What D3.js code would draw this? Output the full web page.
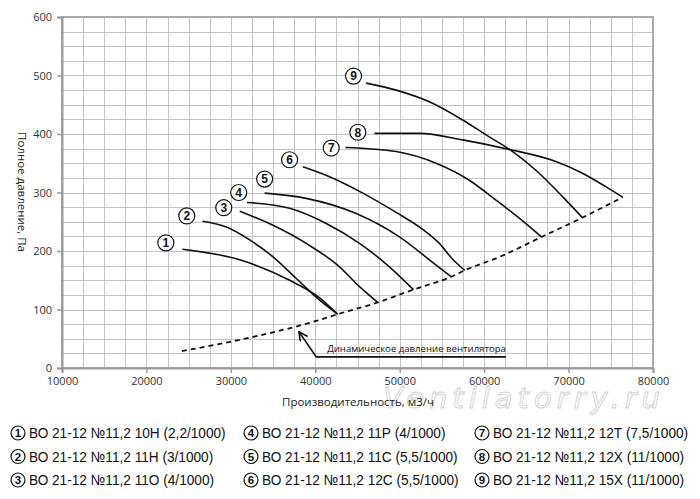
<!DOCTYPE html>
<html lang="ru">
<head>
<meta charset="UTF-8">
<title>ВО 21-12 №11,2 — аэродинамические характеристики</title>
<script src="https://d3js.org/d3.v7.min.js"></script>
<style>
  body { margin: 0; background: #fff; }
  svg { display: block; font-family: "Open Sans", "Noto Sans", sans-serif; }
  .tick-label { font-size: 11px; fill: #333; }
  .axis-title { font-size: 11.5px; fill: #222; }
  .legend text.name { font-family: "Liberation Sans", Arial, sans-serif; font-size: 15px; fill: #111; }
  .badge text { font-family: "Liberation Sans", Arial, sans-serif; font-weight: bold; fill: #111; }
</style>
</head>
<body>
<svg id="chart" width="700" height="499"></svg>
<script>
// --- data ---
const seriesNames = [
  "ВО 21-12 №11,2 10Н (2,2/1000)",
  "ВО 21-12 №11,2 11Н (3/1000)",
  "ВО 21-12 №11,2 11О (4/1000)",
  "ВО 21-12 №11,2 11Р (4/1000)",
  "ВО 21-12 №11,2 11С (5,5/1000)",
  "ВО 21-12 №11,2 12С (5,5/1000)",
  "ВО 21-12 №11,2 12Т (7,5/1000)",
  "ВО 21-12 №11,2 12Х (11/1000)",
  "ВО 21-12 №11,2 15Х (11/1000)"
];

// flow, m3/h
const curveFlow = [
  [24270, 31050, 36960, 40510, 42640],
  [26640, 29470, 32230, 34990, 37750, 40510, 42650],
  [31050, 34990, 38930, 42870, 45240, 47400],
  [31910, 36960, 41300, 45240, 48780, 51620],
  [34000, 38930, 44850, 49970, 53510, 56080],
  [38530, 41690, 45630, 49580, 52720, 54700, 56270, 57700],
  [43580, 49580, 54310, 58240, 61400, 64160, 66790],
  [47010, 52330, 57450, 63180, 68500, 71640, 74410, 76400],
  [46030, 49580, 53510, 57450, 60610, 63180, 66130, 69280, 71640]
];
// total pressure, Pa
const curvePressure = [
  [203, 185, 150, 120, 92],
  [251, 241, 219, 190, 153, 116, 92],
  [268, 244, 213, 173, 139, 112],
  [283, 273, 247, 213, 173, 134],
  [299, 290, 264, 224, 185, 156],
  [344, 327, 299, 266, 237, 213, 186, 167],
  [377, 370, 350, 321, 287, 256, 224],
  [401, 401, 390, 373, 353, 333, 310, 292],
  [487, 475, 455, 424, 395, 372, 338, 293, 257]
];

// dynamic pressure (dashed)
const dynFlow = [24200, 30000, 35000, 40000, 42650, 47400, 51620, 56080, 57700, 62000, 66790, 71640, 76400];
const dynPressure = [29, 45, 61, 80, 92, 112, 134, 156, 167, 191, 224, 257, 292];

// circled number labels on the chart
const labelFlow = [22300, 24780, 29160, 30930, 34000, 36960, 41890, 45040, 44530];
const labelPressure = [214, 260, 274, 300, 323, 356, 376, 403, 499];

// annotation leader: arrow tip, bend, end
const noteFlow = [38060, 40120, 62580];
const notePressure = [62, 19, 19];
const noteText = "Динамическое давление вентилятора";

const xTicks = [10000, 20000, 30000, 40000, 50000, 60000, 70000, 80000];
const yTicks = [0, 100, 200, 300, 400, 500, 600];

// --- layout ---
const svg = d3.select("#chart");
const plotLeft = 62, plotRight = 653, plotTop = 17, plotBottom = 368;

const x = d3.scaleLinear().domain([10000, 80000]).range([plotLeft, plotRight]);
const y = d3.scaleLinear().domain([0, 600]).range([plotBottom, plotTop]);

// grid
const grid = svg.append("g").attr("stroke", "#c3c3c3").attr("stroke-width", 1);
grid.selectAll("line.v")
  .data(d3.range(10000, 80001, 2500))
  .join("line")
  .attr("x1", d => Math.round(x(d)) + 0.5).attr("x2", d => Math.round(x(d)) + 0.5)
  .attr("y1", plotTop).attr("y2", plotBottom);
grid.selectAll("line.h")
  .data(d3.range(0, 601, 25))
  .join("line")
  .attr("y1", d => Math.round(y(d)) + 0.5).attr("y2", d => Math.round(y(d)) + 0.5)
  .attr("x1", plotLeft).attr("x2", plotRight);

// frame
svg.append("rect")
  .attr("x", plotLeft).attr("y", plotTop)
  .attr("width", plotRight - plotLeft).attr("height", plotBottom - plotTop)
  .attr("fill", "none").attr("stroke", "#aaa").attr("stroke-width", 2);

// axes
const yAxis = svg.append("g")
  .attr("transform", `translate(${plotLeft},0)`)
  .call(d3.axisLeft(y).tickValues(yTicks).tickSize(5).tickPadding(5));
const xAxis = svg.append("g")
  .attr("transform", `translate(0,${plotBottom})`)
  .call(d3.axisBottom(x).tickValues(xTicks).tickSize(5).tickPadding(4).tickFormat(d3.format("d")));
[xAxis, yAxis].forEach(a => {
  a.select(".domain").attr("stroke", "#999").attr("stroke-width", 2);
  a.selectAll(".tick line").attr("stroke", "#999").attr("stroke-width", 1.5);
  a.selectAll(".tick text").attr("class", "tick-label");
  a.attr("font-family", null).attr("font-size", null);
});

// watermark
svg.append("text")
  .attr("x", 524).attr("y", 408)
  .attr("text-anchor", "middle")
  .attr("font-family", "DejaVu Sans")
  .attr("font-style", "italic")
  .attr("font-size", 29)
  .attr("letter-spacing", 5)
  .attr("fill", "#fdfdfd")
  .attr("stroke", "#d2d2d2")
  .attr("stroke-width", 0.9)
  .text("Ventilatorry.ru");

// axis titles
svg.append("text").attr("class", "axis-title")
  .attr("x", 358).attr("y", 406).attr("text-anchor", "middle")
  .text("Производительность, м3/ч");
svg.append("text").attr("class", "axis-title")
  .attr("transform", "translate(18,192) rotate(90)")
  .attr("text-anchor", "middle")
  .text("Полное давление, Па");

// dynamic pressure line
const line = d3.line().x(d => x(d[0])).y(d => y(d[1])).curve(d3.curveMonotoneX);
svg.append("path")
  .datum(dynFlow.map((f, i) => [f, dynPressure[i]]))
  .attr("d", line)
  .attr("fill", "none")
  .attr("stroke", "#111")
  .attr("stroke-width", 1.8)
  .attr("stroke-dasharray", "5,4");

// fan curves
svg.append("g").selectAll("path")
  .data(curveFlow.map((fl, k) => fl.map((f, i) => [f, curvePressure[k][i]])))
  .join("path")
  .attr("d", line)
  .attr("fill", "none")
  .attr("stroke", "#111")
  .attr("stroke-width", 1.6);

// annotation
svg.append("defs").append("marker")
  .attr("id", "arrow")
  .attr("viewBox", "0 0 10 10")
  .attr("refX", 9).attr("refY", 5)
  .attr("markerWidth", 10).attr("markerHeight", 10)
  .attr("markerUnits", "userSpaceOnUse")
  .attr("orient", "auto-start-reverse")
  .append("path")
  .attr("d", "M0,0.5 L9,5 L0,9.5")
  .attr("fill", "none").attr("stroke", "#111").attr("stroke-width", 1.6);
svg.append("path")
  .attr("d", d3.line()(noteFlow.map((f, i) => [x(f), y(notePressure[i])])))
  .attr("fill", "none").attr("stroke", "#111").attr("stroke-width", 1.6)
  .attr("marker-start", "url(#arrow)");
svg.append("text")
  .attr("x", x(noteFlow[2])).attr("y", y(notePressure[2]) - 5)
  .attr("text-anchor", "end")
  .attr("font-size", 9.6).attr("fill", "#111")
  .text(noteText);

// circled numbers
function badge(g, cx, cy, n, r, fs) {
  const b = g.append("g").attr("class", "badge").attr("transform", `translate(${cx},${cy})`);
  b.append("circle").attr("r", r).attr("fill", "#fff").attr("stroke", "#111").attr("stroke-width", 1.2);
  b.append("text").attr("text-anchor", "middle").attr("dy", "0.36em").attr("font-size", fs).text(n);
}
const labels = svg.append("g");
labelFlow.forEach((f, i) => badge(labels, x(f), y(labelPressure[i]), i + 1, 8, 12));

// legend
const legend = svg.append("g").attr("class", "legend");
const colX = [18, 251, 482], rowY = [433, 456.5, 480];
seriesNames.forEach((name, i) => {
  const cx = colX[Math.floor(i / 3)], cy = rowY[i % 3];
  badge(legend, cx, cy, i + 1, 7, 11.5);
  legend.append("g")
    .attr("transform", `translate(${cx + 11},${cy}) scale(0.91,1)`)
    .append("text").attr("class", "name")
    .attr("dy", "0.36em")
    .text(name);
});
</script>
</body>
</html>
